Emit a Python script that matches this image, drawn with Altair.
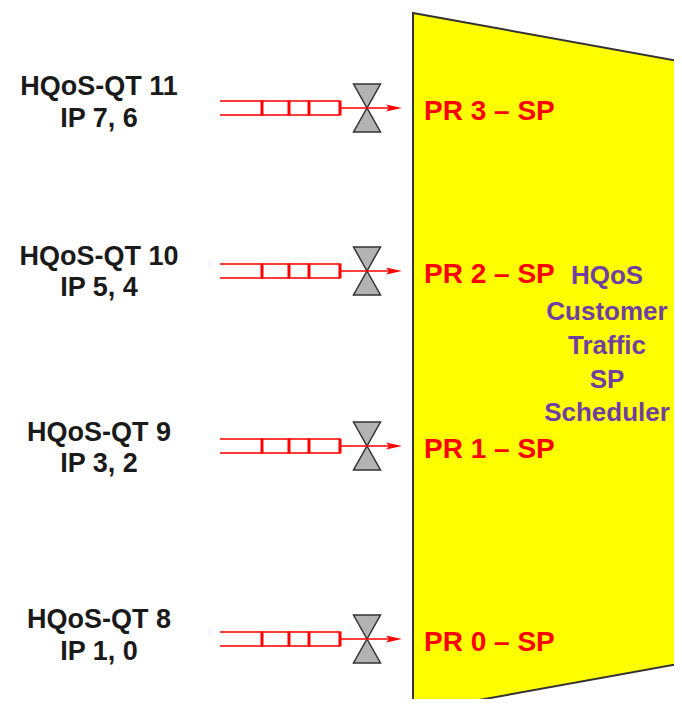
import altair as alt
import pandas as pd

# ---- diagram content (reference pixel coordinates) ----
row_y = [108, 271, 446, 639]
qt_labels = ["HQoS-QT 11", "HQoS-QT 10", "HQoS-QT 9", "HQoS-QT 8"]
qt_y = [87, 257, 433, 620]
ip_labels = ["IP 7, 6", "IP 5, 4", "IP 3, 2", "IP 1, 0"]
ip_y = [119, 288, 464, 652]
pr_labels = ["PR 3 \u2013 SP", "PR 2 \u2013 SP", "PR 1 \u2013 SP", "PR 0 \u2013 SP"]
sched_lines = ["HQoS", "Customer", "Traffic", "SP", "Scheduler"]
sched_y = [276, 312, 346, 380, 413]

trap_x = [413, 700]
trap_top = [13, 65]
trap_bottom = [712, 660]

queue_start = 220
queue_end = 340
divider_x = [262, 289, 309, 340]
valve_x = 367
arrow_tip_x = 394
label_x = 99
pr_x = 424
sched_x = 607

W, H = 666, 691
X = alt.Scale(domain=[8, 8 + W], nice=False, zero=False)
Y = alt.Scale(domain=[8, 8 + H], nice=False, zero=False, reverse=True)


def xe(f):
    return alt.X(f, type="quantitative", scale=X, axis=None)


def ye(f):
    return alt.Y(f, type="quantitative", scale=Y, axis=None)


trap_df = pd.DataFrame({"x": trap_x, "top": trap_top, "bottom": trap_bottom})
trap = alt.Chart(trap_df).mark_area(
    color="#ffff00", stroke="#333333", strokeWidth=2, interpolate="linear"
).encode(x=xe("x"), y=ye("top"), y2="bottom")

ql = []
for r in row_y:
    ql.append({"x": queue_start, "x2": queue_end, "y": r - 7})
    ql.append({"x": queue_start, "x2": queue_end, "y": r + 7})
queue_lines = alt.Chart(pd.DataFrame(ql)).mark_rule(
    color="#ff1a1a", strokeWidth=2, opacity=0.85
).encode(x=xe("x"), x2="x2", y=ye("y"))

dv = []
for r in row_y:
    for d in divider_x:
        dv.append({"x": d, "y": r - 7.5, "y2": r + 7.5})
dividers = alt.Chart(pd.DataFrame(dv)).mark_rule(
    color="#ff0000", strokeWidth=3
).encode(x=xe("x"), y=ye("y"), y2="y2")

valves_df = pd.DataFrame({"x": [valve_x] * len(row_y), "y": row_y})
hourglass = "M-0.5625,-1L0.5625,-1L0,0ZM-0.5625,1L0.5625,1L0,0Z"
valves = alt.Chart(valves_df).mark_point(
    shape=hourglass, size=2304, filled=True, fill="#b3b3b3",
    stroke="#333333", strokeWidth=1.5, opacity=1
).encode(x=xe("x"), y=ye("y"))

arrows_df = pd.DataFrame({"x": [queue_end] * len(row_y),
                          "x2": [arrow_tip_x] * len(row_y), "y": row_y})
arrow_lines = alt.Chart(arrows_df).mark_rule(
    color="#ff0000", strokeWidth=1.5
).encode(x=xe("x"), x2="x2", y=ye("y"))

head_df = pd.DataFrame({"x": [arrow_tip_x] * len(row_y), "y": row_y})
arrow_heads = alt.Chart(head_df).mark_point(
    shape="M1,0L-1,-0.45L-0.6,0L-1,0.45Z", size=256, filled=True,
    color="#ff0000", opacity=1
).encode(x=xe("x"), y=ye("y"))

font = "Liberation Sans"
qt_df = pd.DataFrame({"x": [label_x] * 4, "y": qt_y, "t": qt_labels})
ip_df = pd.DataFrame({"x": [label_x] * 4, "y": ip_y, "t": ip_labels})
left_txt = alt.Chart(pd.concat([qt_df, ip_df])).mark_text(
    font=font, fontSize=27, fontWeight="bold", color="#1a1a1a",
    align="center", baseline="middle"
).encode(x=xe("x"), y=ye("y"), text="t:N")

pr_df = pd.DataFrame({"x": [pr_x] * 4, "y": [r + 4 for r in row_y], "t": pr_labels})
pr_txt = alt.Chart(pr_df).mark_text(
    font=font, fontSize=28, fontWeight="bold", color="#ff0000",
    align="left", baseline="middle"
).encode(x=xe("x"), y=ye("y"), text="t:N")

sc_df = pd.DataFrame({"x": [sched_x] * len(sched_lines), "y": sched_y, "t": sched_lines})
sc_txt = alt.Chart(sc_df).mark_text(
    font=font, fontSize=26, fontWeight="bold", color="#7040a0",
    align="center", baseline="middle"
).encode(x=xe("x"), y=ye("y"), text="t:N")

chart = alt.layer(
    trap, queue_lines, dividers, valves, arrow_lines, arrow_heads,
    left_txt, pr_txt, sc_txt
).properties(
    width=W, height=H, padding=0, autosize=alt.AutoSizeParams(type="none"),
    background="white"
).configure_view(stroke=None)

chart.save("out.html", embed_options={"renderer": "svg", "actions": False})
